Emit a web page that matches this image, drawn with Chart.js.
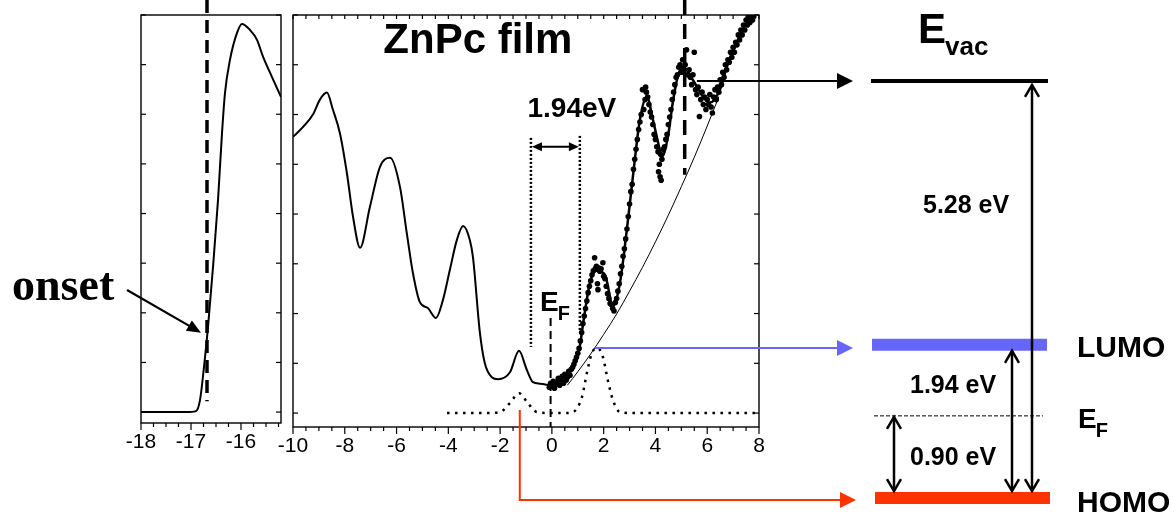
<!DOCTYPE html>
<html>
<head>
<meta charset="utf-8">
<title>ZnPc film UPS / IPES</title>
<script src="https://cdn.jsdelivr.net/npm/chart.js@4.4.0/dist/chart.umd.min.js"></script>
<style>
    html, body { margin: 0; padding: 0; background: #fff; }
    #wrap { position: relative; width: 1174px; height: 515px; overflow: hidden; }
    #wrap canvas { position: absolute; left: 0; top: 0; }
</style>
</head>
<body>
<div id="wrap">
    <canvas id="cutoffChart" width="1174" height="515"></canvas>
    <canvas id="spectrumChart" width="1174" height="515"></canvas>
    <canvas id="levelChart" width="1174" height="515"></canvas>
</div>
<script>
const sans = '"Liberation Sans", Arial, sans-serif';
const serif = '"Liberation Serif", "Times New Roman", serif';

// left panel: secondary electron cutoff
const cutoffX = [-18, -17.5, -17.1, -16.9, -16.82, -16.74, -16.66, -16.56, -16.46, -16.38, -16.32, -16.22, -16.08, -15.98, -15.82, -15.68, -15.56, -15.38, -15.2];
const cutoffY = [0, 0, 0, 0.02, 0.24, 0.91, 1.71, 2.92, 4.27, 5.62, 6.43, 7.10, 7.64, 7.82, 7.70, 7.50, 7.16, 6.75, 6.35];
const cutoffTicks = [-18, -17, -16];
const onsetPos = -16.68;

// right panel: UPS (occupied side)
const upsX = [-10, -9.61, -9.23, -8.96, -8.69, -8.46, -8.19, -7.92, -7.68, -7.41, -7.03, -6.64, -6.25, -5.87, -5.6, -5.37, -5.1, -4.79, -4.48, -4.21, -3.94, -3.67, -3.43, -3.17, -3.05, -2.78, -2.59, -2.32, -2.08, -1.62, -1.27, -0.97, -0.73, -0.46, -0.08];
const upsY = [5.55, 5.75, 6.0, 6.3, 6.44, 6.1, 5.63, 4.83, 3.94, 3.32, 4.14, 4.95, 5.13, 4.55, 3.6, 2.82, 2.23, 2.11, 1.91, 2.27, 2.88, 3.48, 3.76, 3.48, 3.14, 1.61, 1.0, 0.72, 0.68, 0.82, 1.25, 0.87, 0.62, 0.59, 0.56];

// right panel: IPES (empty side), smoothed curve
const ipesFitX = [-0.08, 0.3, 0.58, 0.81, 1.08, 1.21, 1.47, 1.72, 2.05, 2.36, 2.63, 2.88, 3.14, 3.4, 3.67, 3.9, 4.17, 4.25, 4.48, 4.67, 4.86, 5.06, 5.44, 5.83, 6.1, 6.49, 6.76, 7.14, 7.53, 7.84];
const ipesFitY = [0.56, 0.64, 0.72, 0.93, 1.35, 1.81, 2.62, 2.86, 2.78, 2.15, 2.62, 3.62, 4.8, 5.9, 6.35, 5.9, 5.29, 5.15, 5.55, 6.24, 6.76, 6.96, 6.7, 6.36, 6.24, 6.5, 6.96, 7.44, 7.85, 7.97];

// IPES raw points
const ipesPoints = [
    [-0.1, 0.52], [-0.05, 0.60], [0.0, 0.55], [0.05, 0.64], [0.1, 0.50], [0.15, 0.62], [0.2, 0.58], [0.25, 0.70],
    [0.3, 0.56], [0.35, 0.66], [0.4, 0.74], [0.45, 0.60], [0.5, 0.78], [0.55, 0.66], [0.6, 0.72], [0.65, 0.84],
    [0.7, 0.76], [0.75, 0.88], [0.8, 0.92], [0.85, 0.98], [0.9, 1.05], [0.95, 1.12], [1.0, 1.2], [1.05, 1.3],
    [1.1, 1.45], [1.15, 1.62], [1.2, 1.8], [1.25, 1.95], [1.3, 2.1], [1.35, 2.25], [1.4, 2.42], [1.45, 2.55],
    [1.5, 2.66], [1.55, 2.78], [1.6, 2.86], [1.65, 3.12], [1.68, 2.9], [1.72, 2.95], [1.76, 2.6], [1.78, 2.48],
    [1.8, 2.92], [1.85, 2.85], [1.9, 2.9], [1.97, 3.02], [2.0, 2.75], [2.05, 2.7], [2.1, 2.55], [2.15, 2.4],
    [2.2, 2.3], [2.25, 2.2], [2.3, 2.18], [2.35, 2.1], [2.4, 2.05], [2.45, 2.22], [2.5, 2.3], [2.55, 2.45],
    [2.6, 2.6], [2.65, 2.8], [2.7, 2.95], [2.75, 3.15], [2.8, 3.3], [2.85, 3.5], [2.9, 3.7], [2.95, 3.95],
    [3.0, 4.2], [3.05, 4.45], [3.1, 4.6], [3.15, 4.9], [3.2, 5.1], [3.25, 5.3], [3.3, 5.5], [3.35, 5.7],
    [3.4, 5.85], [3.45, 6.0], [3.5, 6.5], [3.55, 6.1], [3.6, 6.3], [3.62, 6.55], [3.65, 6.45], [3.7, 6.35],
    [3.75, 6.2], [3.8, 6.05], [3.85, 5.95], [3.9, 5.8], [3.95, 5.6], [4.0, 5.5], [4.05, 5.35], [4.1, 5.25],
    [4.12, 4.85], [4.15, 5.0], [4.18, 4.75], [4.2, 5.2], [4.22, 4.68], [4.25, 5.1], [4.3, 5.3], [4.35, 5.35],
    [4.4, 5.5], [4.45, 5.6], [4.5, 5.8], [4.55, 5.95], [4.6, 6.1], [4.65, 6.3], [4.7, 6.45], [4.75, 6.6],
    [4.8, 6.75], [4.85, 6.8], [4.9, 6.95], [4.95, 7.0], [5.0, 6.85], [5.05, 7.1], [5.1, 6.9], [5.15, 7.0],
    [5.2, 7.3], [5.25, 6.8], [5.3, 6.9], [5.35, 6.75], [5.4, 6.6], [5.45, 6.8], [5.5, 7.25], [5.55, 6.5],
    [5.6, 6.4], [5.65, 6.55], [5.7, 5.96], [5.75, 6.3], [5.8, 6.45], [5.85, 6.2], [5.9, 6.35], [5.95, 6.1],
    [6.0, 6.3], [6.05, 6.2], [6.1, 6.4], [6.15, 6.15], [6.2, 6.03], [6.25, 6.35], [6.3, 6.5], [6.35, 6.3],
    [6.4, 6.55], [6.45, 6.45], [6.5, 6.7], [6.55, 6.6], [6.6, 6.85], [6.65, 6.75], [6.7, 7.0], [6.75, 6.9],
    [6.8, 7.1], [6.85, 7.05], [6.9, 7.25], [6.95, 7.15], [7.0, 7.35], [7.05, 7.25], [7.1, 7.45], [7.15, 7.4],
    [7.2, 7.6], [7.25, 7.5], [7.3, 7.7], [7.35, 7.6], [7.4, 7.8], [7.45, 7.7], [7.5, 7.9], [7.55, 7.8],
    [7.6, 7.95], [7.65, 7.85], [7.7, 7.98], [7.75, 7.9], [7.8, 7.97]
];

// IPES background (thin line)
const bgX = [0.6, 1.0, 1.5, 2.0, 2.5, 3.0, 3.5, 4.0, 4.5, 5.0, 5.5, 6.0, 6.45];
const bgY = [0.56, 0.83, 1.19, 1.58, 1.99, 2.45, 2.93, 3.44, 3.98, 4.55, 5.14, 5.77, 6.36];

// fitted HOMO / LUMO peaks (dotted)
const peakX = [-4.05, -2.5, -2.0, -1.62, -1.27, -0.93, -0.58, 0, 0.5, 0.81, 1.16, 1.35, 1.54, 1.76, 1.97, 2.16, 2.36, 2.63, 3.2, 7.9];
const peakY = [0, 0, 0.02, 0.2, 0.4, 0.2, 0.02, 0, 0, 0.02, 0.32, 0.8, 1.2, 1.31, 1.13, 0.66, 0.26, 0.02, 0, 0];

const mainTicks = [-10, -8, -6, -4, -2, 0, 2, 4, 6, 8];
const efPos = -0.05;
const evacCut = 5.13;
const gapEdges = [-0.81, 1.08];
const lumoPeak = [1.66, 1.31];
const homoPeak = [-1.24, 0.06];
const evacStart = 5.6;

// energy level diagram (eV above HOMO, as drawn)
const levelEnergy = { homo: 0, ef: 1.04, lumo: 1.94, evac: 5.28 };
const gapLabels = ['0.90 eV', '1.94 eV', '5.28 eV'];

const zip = (xs, ys) => xs.map((x, i) => ({ x, y: ys[i] }));

function line(ctx, x1, y1, x2, y2) {
    ctx.beginPath();
    ctx.moveTo(x1, y1);
    ctx.lineTo(x2, y2);
    ctx.stroke();
}

function solidHead(ctx, tx, ty, dx, dy, len, half) {
    const bx = tx - dx * len, by = ty - dy * len;
    ctx.beginPath();
    ctx.moveTo(tx, ty);
    ctx.lineTo(bx - dy * half, by + dx * half);
    ctx.lineTo(bx + dy * half, by - dx * half);
    ctx.closePath();
    ctx.fill();
}

function openHead(ctx, x, y, dir) {
    // dir = -1 pointing up, 1 pointing down
    ctx.beginPath();
    ctx.moveTo(x - 7, y - dir * 12);
    ctx.lineTo(x, y);
    ctx.lineTo(x + 7, y - dir * 12);
    ctx.stroke();
}

function subText(ctx, x, y, main, sub, size, subSize, drop) {
    ctx.font = `bold ${size}px ${sans}`;
    ctx.fillText(main, x, y);
    const w = ctx.measureText(main).width;
    ctx.font = `bold ${subSize}px ${sans}`;
    ctx.fillText(sub, x + w - 1, y + drop);
}

function drawFrame(chart, minorStep, majorStep, topTicks) {
    const { ctx, chartArea: a, scales: { x, y } } = chart;
    ctx.save();
    ctx.strokeStyle = '#000';
    ctx.lineWidth = 1.4;
    ctx.strokeRect(a.left, a.top, a.right - a.left, a.bottom - a.top);
    ctx.lineWidth = 1.2;
    const n = Math.round((x.max - x.min) / minorStep);
    for (let i = 0; i <= n; i++) {
        const v = x.min + i * minorStep;
        const px = x.getPixelForValue(v);
        const major = Math.abs(v / majorStep - Math.round(v / majorStep)) < 1e-6;
        line(ctx, px, a.bottom, px, a.bottom + (major ? 7 : 4));
        if (topTicks) line(ctx, px, a.top, px, a.top + 4);
    }
    for (let k = 0; k <= 8; k++) {
        const py = y.getPixelForValue(k);
        line(ctx, a.left, py, a.left + 5, py);
        line(ctx, a.right, py, a.right - 5, py);
    }
    ctx.restore();
}

function panelOptions(xMin, xMax, yMin, yMax, padding, axisHeight, tickValues) {
    return {
        responsive: false,
        animation: false,
        events: [],
        layout: { padding },
        plugins: { legend: { display: false }, tooltip: { enabled: false } },
        scales: {
            x: {
                type: 'linear',
                min: xMin,
                max: xMax,
                afterBuildTicks: s => { s.ticks = tickValues.map(v => ({ value: v })); },
                afterFit: s => { s.height = axisHeight; },
                grid: { display: false, drawTicks: false },
                border: { display: false },
                ticks: {
                    color: '#000',
                    font: { family: sans, size: 21 },
                    padding: 7,
                    maxRotation: 0,
                    autoSkip: false,
                    callback: v => String(v)
                }
            },
            y: { type: 'linear', display: false, min: yMin, max: yMax }
        }
    };
}

// ---------- left panel ----------
const cutoffDeco = {
    id: 'cutoffDeco',
    afterDatasetsDraw(chart) {
        drawFrame(chart, 0.25, 1, false);
        const { ctx, scales: { x, y } } = chart;
        ctx.save();
        ctx.strokeStyle = '#000';
        ctx.fillStyle = '#000';
        ctx.lineWidth = 3.5;
        ctx.setLineDash([13, 7]);
        const ox = x.getPixelForValue(onsetPos);
        line(ctx, ox, y.getPixelForValue(8.3), ox, y.getPixelForValue(0.22));
        ctx.setLineDash([]);

        ctx.font = `bold 46px ${serif}`;
        ctx.textAlign = 'left';
        ctx.fillText('onset', 12, 300);

        const tx = x.getPixelForValue(-16.8), ty = y.getPixelForValue(1.6);
        const sx = 127, sy = 290;
        const len = Math.hypot(tx - sx, ty - sy);
        const dx = (tx - sx) / len, dy = (ty - sy) / len;
        ctx.lineWidth = 2.2;
        line(ctx, sx, sy, tx - dx * 10, ty - dy * 10);
        solidHead(ctx, tx, ty, dx, dy, 14, 6);
        ctx.restore();
    }
};

new Chart(document.getElementById('cutoffChart'), {
    type: 'scatter',
    data: {
        datasets: [{
            data: zip(cutoffX, cutoffY),
            showLine: true,
            borderColor: '#000',
            borderWidth: 2,
            pointRadius: 0,
            cubicInterpolationMode: 'monotone'
        }]
    },
    options: panelOptions(-18, -15.2, -0.22, 8.0, { left: 141, right: 893, top: 15, bottom: 0 }, 92, cutoffTicks),
    plugins: [cutoffDeco]
});

// ---------- right panel ----------
const spectrumDeco = {
    id: 'spectrumDeco',
    afterDatasetsDraw(chart) {
        drawFrame(chart, 0.5, 2, true);
        const { ctx, scales: { x, y } } = chart;
        ctx.save();
        ctx.strokeStyle = '#000';
        ctx.fillStyle = '#000';

        // E_F marker
        ctx.lineWidth = 2;
        ctx.setLineDash([8, 5]);
        const ef = x.getPixelForValue(efPos);
        line(ctx, ef, y.getPixelForValue(1.91), ef, y.getPixelForValue(-0.28));

        // vacuum level cut
        ctx.lineWidth = 3.5;
        ctx.setLineDash([15, 9]);
        const ev = x.getPixelForValue(evacCut);
        line(ctx, ev, y.getPixelForValue(8.3), ev, y.getPixelForValue(4.79));

        // gap markers
        ctx.lineWidth = 2.5;
        ctx.setLineDash([2, 2]);
        const g0 = x.getPixelForValue(gapEdges[0]), g1 = x.getPixelForValue(gapEdges[1]);
        line(ctx, g0, y.getPixelForValue(5.53), g0, y.getPixelForValue(1.33));
        line(ctx, g1, y.getPixelForValue(5.57), g1, y.getPixelForValue(1.67));
        ctx.setLineDash([]);
        const ay = y.getPixelForValue(5.35);
        ctx.lineWidth = 2;
        line(ctx, g0 + 8, ay, g1 - 8, ay);
        solidHead(ctx, g0 + 1, ay, -1, 0, 10, 4.5);
        solidHead(ctx, g1 - 1, ay, 1, 0, 10, 4.5);

        ctx.textAlign = 'center';
        ctx.font = `bold 28px ${sans}`;
        ctx.fillText('1.94eV', x.getPixelForValue(0.77), y.getPixelForValue(5.95));
        ctx.font = `bold 42px ${sans}`;
        ctx.fillText('ZnPc film', x.getPixelForValue(-2.86), y.getPixelForValue(7.24));

        ctx.textAlign = 'left';
        subText(ctx, x.getPixelForValue(-0.46), y.getPixelForValue(2.05), 'E', 'F', 28, 20, 9);
        ctx.restore();
    }
};

const chartB = new Chart(document.getElementById('spectrumChart'), {
    type: 'scatter',
    data: {
        datasets: [
            {
                data: zip(upsX, upsY),
                showLine: true, borderColor: '#000', borderWidth: 2, pointRadius: 0,
                cubicInterpolationMode: 'monotone'
            },
            {
                data: zip(bgX, bgY),
                showLine: true, borderColor: '#000', borderWidth: 1, pointRadius: 0,
                cubicInterpolationMode: 'monotone'
            },
            {
                data: zip(peakX, peakY),
                showLine: true, borderColor: '#000', borderWidth: 2.5, borderDash: [2.5, 5.5], pointRadius: 0,
                cubicInterpolationMode: 'monotone'
            },
            {
                data: zip(ipesFitX, ipesFitY),
                showLine: true, borderColor: '#000', borderWidth: 2.5, pointRadius: 0,
                cubicInterpolationMode: 'monotone'
            },
            {
                data: ipesPoints.map(p => ({ x: p[0], y: p[1] })),
                showLine: false, pointRadius: 2.8, pointBorderWidth: 0,
                pointBackgroundColor: '#000'
            }
        ]
    },
    options: panelOptions(-10, 8, -0.28, 8.0, { left: 293, right: 415, top: 15, bottom: 0 }, 88, mainTicks),
    plugins: [spectrumDeco]
});

// ---------- energy level diagram ----------
const levelX = { evac: [871, 1048], lumo: [872, 1047], homo: [875, 1050], ef: [874, 1043] };

function levelLine(key, color, width, dash) {
    return {
        data: levelX[key].map(px => ({ x: px, y: levelEnergy[key] })),
        showLine: true, borderColor: color, borderWidth: width, borderDash: dash || [],
        pointRadius: 0, borderCapStyle: 'butt'
    };
}

const levelDeco = {
    id: 'levelDeco',
    afterDatasetsDraw(chart) {
        const { ctx, scales: { y } } = chart;
        const bx = chartB.scales.x, by = chartB.scales.y;
        const yEvac = y.getPixelForValue(levelEnergy.evac);
        const yLumo = y.getPixelForValue(levelEnergy.lumo);
        const yHomo = y.getPixelForValue(levelEnergy.homo);
        const yEf = y.getPixelForValue(levelEnergy.ef);
        ctx.save();

        // connectors from the spectrum
        ctx.lineWidth = 2;
        ctx.strokeStyle = ctx.fillStyle = '#000';
        line(ctx, bx.getPixelForValue(evacStart), yEvac, 840, yEvac);
        solidHead(ctx, 853, yEvac, 1, 0, 16, 8);

        ctx.strokeStyle = ctx.fillStyle = '#6666ff';
        const ly = by.getPixelForValue(lumoPeak[1]);
        line(ctx, bx.getPixelForValue(lumoPeak[0]), ly, 840, ly);
        solidHead(ctx, 853, ly, 1, 0, 16, 8);

        ctx.strokeStyle = ctx.fillStyle = '#ff3300';
        const hx = bx.getPixelForValue(homoPeak[0]);
        const hy = yHomo + 2;
        ctx.beginPath();
        ctx.moveTo(hx, by.getPixelForValue(homoPeak[1]));
        ctx.lineTo(hx, hy);
        ctx.lineTo(842, hy);
        ctx.stroke();
        solidHead(ctx, 856, hy, 1, 0, 16, 8);

        // gap arrows
        ctx.strokeStyle = ctx.fillStyle = '#000';
        ctx.lineWidth = 2.5;
        const arrows = [[894, yEf + 1, yHomo - 7], [1012, yLumo + 6, yHomo - 7], [1032, yEvac + 4, yHomo - 7]];
        arrows.forEach(([ax, top, bottom]) => {
            line(ctx, ax, top, ax, bottom);
            openHead(ctx, ax, top, -1);
            openHead(ctx, ax, bottom, 1);
        });

        // labels
        ctx.textAlign = 'left';
        ctx.font = `bold 25px ${sans}`;
        ctx.fillText(gapLabels[2], 923, 213);
        ctx.fillText(gapLabels[1], 910, 393);
        ctx.fillText(gapLabels[0], 910, 465);
        ctx.font = `bold 30px ${sans}`;
        ctx.fillText('LUMO', 1077, 357);
        ctx.fillText('HOMO', 1077, 512);
        subText(ctx, 918, 43, 'E', 'vac', 42, 26, 12);
        subText(ctx, 1078, 428, 'E', 'F', 28, 20, 9);
        ctx.restore();
    }
};

new Chart(document.getElementById('levelChart'), {
    type: 'scatter',
    data: {
        datasets: [
            levelLine('evac', '#000', 4),
            levelLine('lumo', '#6666ff', 12),
            levelLine('homo', '#ff3300', 12),
            levelLine('ef', '#000', 1, [4, 2])
        ]
    },
    options: {
        responsive: false,
        animation: false,
        events: [],
        layout: { padding: 0 },
        plugins: { legend: { display: false }, tooltip: { enabled: false } },
        scales: {
            x: { type: 'linear', display: false, min: 0, max: 1174 },
            y: { type: 'linear', display: false, min: -0.215, max: 6.305 }
        }
    },
    plugins: [levelDeco]
});
</script>
</body>
</html>
